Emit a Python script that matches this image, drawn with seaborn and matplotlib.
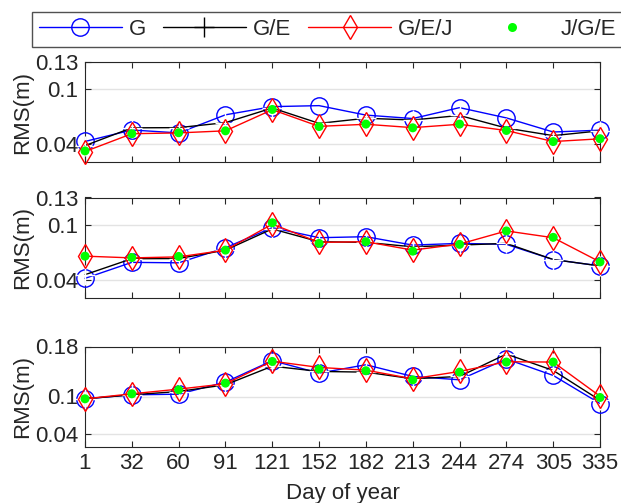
import matplotlib
matplotlib.use("Agg")
import matplotlib.pyplot as plt
from matplotlib.lines import Line2D
import seaborn as sns
import pandas as pd

days = ["1", "32", "60", "91", "121", "152", "182", "213", "244", "274", "305", "335"]
series_names = ["G", "G/E", "G/E/J", "J/G/E"]

# Panel 1
p1_G = [0.0426, 0.0552, 0.0520, 0.0719, 0.0809, 0.0820, 0.0716, 0.0678, 0.0798, 0.0685, 0.0530, 0.0550]
p1_GE = [0.0380, 0.0576, 0.0578, 0.0633, 0.0794, 0.0625, 0.0681, 0.0662, 0.0712, 0.0573, 0.0490, 0.0543]
p1_GEJ = [0.0315, 0.0511, 0.0520, 0.0543, 0.0775, 0.0592, 0.0615, 0.0578, 0.0615, 0.0546, 0.0425, 0.0455]
p1_JGE = [0.0322, 0.0511, 0.0522, 0.0543, 0.0778, 0.0590, 0.0617, 0.0576, 0.0617, 0.0547, 0.0425, 0.0456]

# Panel 2
p2_G = [0.0415, 0.0590, 0.0585, 0.0750, 0.0970, 0.0860, 0.0871, 0.0779, 0.0798, 0.0787, 0.0621, 0.0551]
p2_GE = [0.0455, 0.0630, 0.0632, 0.0724, 0.0956, 0.0816, 0.0809, 0.0760, 0.0779, 0.0798, 0.0621, 0.0551]
p2_GEJ = [0.0658, 0.0639, 0.0650, 0.0724, 0.1008, 0.0809, 0.0816, 0.0724, 0.0790, 0.0934, 0.0860, 0.0595]
p2_JGE = [0.0658, 0.0643, 0.0655, 0.0724, 0.1023, 0.0798, 0.0816, 0.0713, 0.0787, 0.0934, 0.0864, 0.0595]

# Panel 3
p3_G = [0.0963, 0.1027, 0.1037, 0.1230, 0.1574, 0.1374, 0.1508, 0.1321, 0.1267, 0.1600, 0.1337, 0.0888]
p3_GE = [0.0963, 0.1027, 0.1080, 0.1187, 0.1485, 0.1401, 0.1390, 0.1283, 0.1321, 0.1679, 0.1417, 0.0940]
p3_GEJ = [0.0963, 0.1043, 0.1118, 0.1203, 0.1565, 0.1465, 0.1422, 0.1283, 0.1401, 0.1556, 0.1551, 0.1005]
p3_JGE = [0.0963, 0.1043, 0.1107, 0.1214, 0.1561, 0.1439, 0.1412, 0.1267, 0.1390, 0.1551, 0.1551, 0.0984]

ylims = [(0.02, 0.13), (0.02, 0.13), (0.02, 0.18)]
yticks = [[0.04, 0.1, 0.13], [0.04, 0.1, 0.13], [0.04, 0.1, 0.18]]
ytick_labels = [["0.04", "0.1", "0.13"], ["0.04", "0.1", "0.13"], ["0.04", "0.1", "0.18"]]
panels = [(p1_G, p1_GE, p1_GEJ, p1_JGE), (p2_G, p2_GE, p2_GEJ, p2_JGE), (p3_G, p3_GE, p3_GEJ, p3_JGE)]

sns.set_style("white")
plt.rcParams["font.family"] = ["Liberation Sans", "DejaVu Sans"]
FS = 16
TXT = "#262626"

W, H = 621, 503
fig = plt.figure(figsize=(W / 100, H / 100), dpi=100)

# axes boxes in pixels: (top, bottom)
boxes = [(62, 162), (197.5, 298), (346.5, 446.5)]
left_px, right_px = 85, 600

styles = [
    dict(color="#0000ff", marker="o", markersize=12.5, markerfacecolor="none", markeredgecolor="#0000ff", markeredgewidth=1.0),
    dict(color="black", marker="+", markersize=14, markeredgewidth=1.0),
    dict(color="#ff0000", marker="d", markersize=12.5, markerfacecolor="none", markeredgecolor="#ff0000", markeredgewidth=1.0),
]

axes = []
for k, (top, bot) in enumerate(boxes):
    ax = fig.add_axes([left_px / W, 1 - bot / H, (right_px - left_px) / W, (bot - top) / H])
    axes.append(ax)
    G, GE, GEJ, JGE = panels[k]
    for vals, st in zip((G, GE, GEJ), styles):
        df = pd.DataFrame({"day": days, "rms": vals})
        sns.lineplot(data=df, x="day", y="rms", sort=False, estimator=None, ax=ax,
                     linewidth=1.0, clip_on=False, zorder=3, **st)
    dfg = pd.DataFrame({"day": days, "rms": JGE})
    sns.scatterplot(data=dfg, x="day", y="rms", ax=ax, color="#00ff00", s=42,
                    edgecolor="none", linewidth=0, zorder=4, clip_on=False)
    ax.set_xlim(0, len(days) - 1)
    ax.set_ylim(*ylims[k])
    ax.set_yticks(yticks[k])
    ax.set_yticklabels(ytick_labels[k], fontsize=FS, color=TXT)
    ax.set_xticks(range(len(days)))
    if k == 2:
        ax.set_xticklabels(days, fontsize=FS, color=TXT)
        ax.set_xlabel("Day of year", fontsize=FS, color=TXT, labelpad=6)
    else:
        ax.set_xticklabels([])
        ax.set_xlabel("")
    ax.set_ylabel("RMS(m)", fontsize=FS, color=TXT, labelpad=1)
    ax.yaxis.grid(True, color="#e3e3e3", linewidth=1.0, zorder=0)
    ax.xaxis.grid(False)
    ax.set_axisbelow(True)
    ax.tick_params(axis="both", direction="in", length=4, width=0.8, color=TXT,
                   top=True, right=True, bottom=True, left=True, pad=5)
    for sp in ax.spines.values():
        sp.set_visible(True)
        sp.set_color(TXT)
        sp.set_linewidth(0.8)
    if ax.get_legend() is not None:
        ax.get_legend().remove()

handles = [
    Line2D([], [], **styles[0], linewidth=1.0),
    Line2D([], [], **styles[1], linewidth=1.0),
    Line2D([], [], **styles[2], linewidth=1.0),
    Line2D([], [], color="#00ff00", marker="o", markersize=6.5, linestyle="none", markeredgewidth=0),
]
leg = fig.legend(handles, series_names, loc="center left", bbox_to_anchor=(32 / W, 1 - 29.5 / H),
                 ncol=4, frameon=True, fancybox=False, edgecolor=TXT, fontsize=FS,
                 handlelength=3.74, handletextpad=0.32, columnspacing=0.75, borderpad=0.3,
                 borderaxespad=0, numpoints=1)
leg.get_frame().set_linewidth(1.0)
for t in leg.get_texts():
    t.set_color(TXT)

fig.savefig("out.png", dpi=100, facecolor="white")
